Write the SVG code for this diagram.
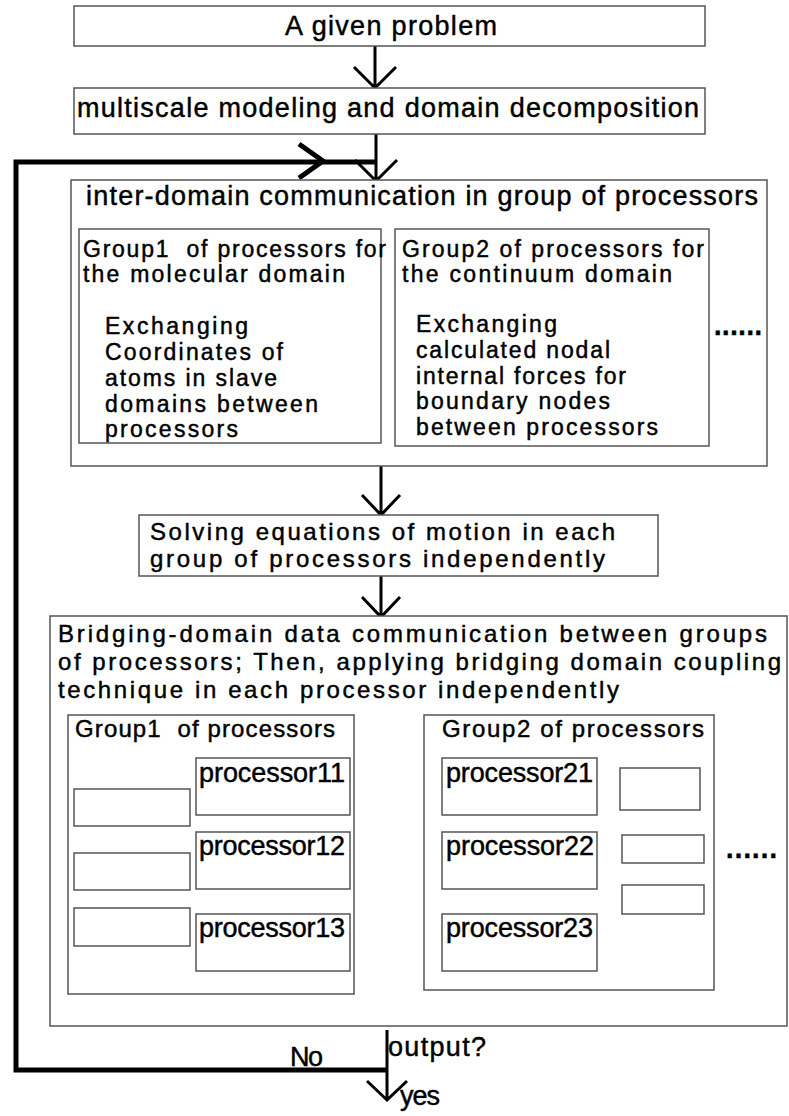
<svg xmlns="http://www.w3.org/2000/svg" width="789" height="1116" viewBox="0 0 789 1116">
<style>
.box{fill:#fff;stroke:#555;stroke-width:1.5}
.t{font-family:"Liberation Sans",Arial,sans-serif;fill:#000;stroke:#000;stroke-width:0.45;font-size:27px;white-space:pre}
.m{font-size:24px}
.s{font-size:23px}
.flow{stroke:#000;stroke-width:3;fill:none}
.loop{stroke:#000;stroke-width:5;fill:none}
.dbl{stroke:#000;stroke-width:1.5;fill:none}
.dots{font-weight:bold}
</style>
<defs>
<marker id="tri" markerUnits="userSpaceOnUse" orient="auto-start-reverse" refX="0" refY="0" markerWidth="40" markerHeight="14" viewBox="-36 -7 40 14" overflow="visible">
<path d="M0,0 L-35,-5.5 L-31,0 L-35,5.5 Z" fill="#000"/>
</marker>
</defs>
<rect width="789" height="1116" fill="#fff"/>

<g id="connectors">
<path class="flow" d="M375,46 V88 M354,67 L375,88 L396,67"/>
<path class="flow" d="M376,134 V180 M355,160 L376,181 L397,160"/>
<path class="flow" d="M381,466 V515 M362,495 L381,515 L400,495"/>
<path class="flow" d="M381,576 V616 M362,597 L381,617 L400,597"/>
<path class="loop" d="M387,1070 H16 V162 H376"/>
<path class="loop" stroke-width="4" d="M299,144 L323,161 L299,178"/>
<path class="flow" d="M387,1030 V1099 M367,1081 L387,1100 L407,1081"/>
<line class="dbl" x1="353" y1="789" x2="439" y2="789" marker-start="url(#tri)" marker-end="url(#tri)"/>
<line class="dbl" x1="353" y1="857" x2="439" y2="857" marker-start="url(#tri)" marker-end="url(#tri)"/>
<line class="dbl" x1="353" y1="943" x2="439" y2="943" marker-start="url(#tri)" marker-end="url(#tri)"/>
</g>

<g id="problem">
<rect class="box" x="74" y="6" width="631" height="40"/>
<text class="t" x="285" y="35" textLength="212">A given problem</text>
</g>

<g id="multiscale">
<rect class="box" x="74" y="88" width="631" height="46"/>
<text class="t" x="77" y="117" textLength="622">multiscale modeling and domain decomposition</text>
</g>

<g id="interdomain">
<rect class="box" x="71" y="180" width="696" height="286"/>
<text class="t" x="86" y="205" textLength="672">inter-domain communication in group of processors</text>
<text class="t dots" x="714" y="335" textLength="48">......</text>
</g>

<g id="group1-molecular">
<rect class="box" x="79" y="229" width="302" height="214"/>
<text class="t s" x="83" y="257" textLength="303">Group1  of processors for</text>
<text class="t s" x="83" y="282" textLength="262">the molecular domain</text>
<text class="t s" x="105" y="334" textLength="143">Exchanging</text>
<text class="t s" x="105" y="360" textLength="178">Coordinates of</text>
<text class="t s" x="105" y="386" textLength="172">atoms in slave</text>
<text class="t s" x="105" y="412" textLength="213">domains between</text>
<text class="t s" x="105" y="437" textLength="133">processors</text>
</g>

<g id="group2-continuum">
<rect class="box" x="395" y="229" width="314" height="217"/>
<text class="t s" x="402" y="257" textLength="302">Group2 of processors for</text>
<text class="t s" x="402" y="282" textLength="270">the continuum domain</text>
<text class="t s" x="416" y="332" textLength="141">Exchanging</text>
<text class="t s" x="416" y="358" textLength="194">calculated nodal</text>
<text class="t s" x="416" y="384" textLength="210">internal forces for</text>
<text class="t s" x="416" y="409" textLength="194">boundary nodes</text>
<text class="t s" x="416" y="435" textLength="242">between processors</text>
</g>

<g id="solving">
<rect class="box" x="139" y="515" width="519" height="61"/>
<text class="t m" x="150" y="540" textLength="465">Solving equations of motion in each</text>
<text class="t m" x="150" y="567" textLength="455">group of processors independently</text>
</g>

<g id="bridging">
<rect class="box" x="50" y="616" width="737" height="410"/>
<text class="t m" x="58" y="642" textLength="709">Bridging-domain data communication between groups</text>
<text class="t m" x="58" y="670" textLength="723">of processors; Then, applying bridging domain coupling</text>
<text class="t m" x="58" y="698" textLength="561">technique in each processor independently</text>
<text class="t dots" x="726" y="858" textLength="51">......</text>
</g>

<g id="group1-processors">
<rect class="box" x="68" y="715" width="286" height="279"/>
<text class="t m" x="75" y="737" textLength="260">Group1  of processors</text>
<rect class="box" x="74" y="789" width="116" height="37"/>
<rect class="box" x="74" y="853" width="116" height="37"/>
<rect class="box" x="74" y="908" width="116" height="38"/>
</g>

<g id="processor11">
<rect class="box" x="196" y="758" width="154" height="57"/>
<text class="t" x="199" y="782" textLength="146">processor11</text>
</g>
<g id="processor12">
<rect class="box" x="196" y="832" width="154" height="57"/>
<text class="t" x="199" y="855" textLength="146">processor12</text>
</g>
<g id="processor13">
<rect class="box" x="196" y="914" width="154" height="57"/>
<text class="t" x="199" y="937" textLength="146">processor13</text>
</g>

<g id="group2-processors">
<rect class="box" x="424" y="715" width="290" height="275"/>
<text class="t m" x="442" y="737" textLength="262">Group2 of processors</text>
<rect class="box" x="620" y="768" width="80" height="42"/>
<rect class="box" x="622" y="835" width="82" height="28"/>
<rect class="box" x="622" y="885" width="82" height="29"/>
</g>

<g id="processor21">
<rect class="box" x="442" y="758" width="155" height="57"/>
<text class="t" x="446" y="782" textLength="147">processor21</text>
</g>
<g id="processor22">
<rect class="box" x="442" y="832" width="155" height="57"/>
<text class="t" x="446" y="855" textLength="148">processor22</text>
</g>
<g id="processor23">
<rect class="box" x="442" y="914" width="155" height="57"/>
<text class="t" x="446" y="937" textLength="147">processor23</text>
</g>

<g id="labels">
<text class="t" x="290" y="1066" textLength="33">No</text>
<text class="t" x="388" y="1056" textLength="98">output?</text>
<text class="t" x="400" y="1105" textLength="40">yes</text>
</g>
</svg>
